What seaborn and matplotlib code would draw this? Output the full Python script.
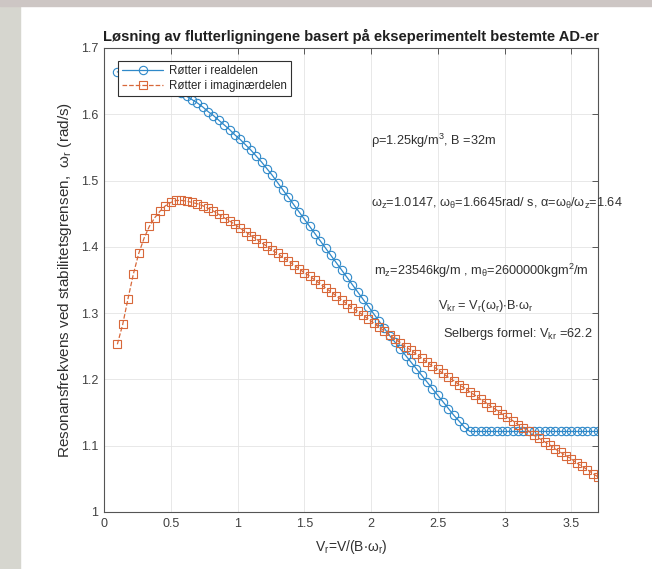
import numpy as np
import pandas as pd
import matplotlib
matplotlib.use("Agg")
import matplotlib.pyplot as plt
import seaborn as sns
from matplotlib.patches import Rectangle

# reduserte hastigheter V_r (steg 0.04)
v_r = [0.10, 0.14, 0.18, 0.22, 0.26, 0.30, 0.34, 0.38, 0.42, 0.46,
       0.50, 0.54, 0.58, 0.62, 0.66, 0.70, 0.74, 0.78, 0.82, 0.86,
       0.90, 0.94, 0.98, 1.02, 1.06, 1.10, 1.14, 1.18, 1.22, 1.26,
       1.30, 1.34, 1.38, 1.42, 1.46, 1.50, 1.54, 1.58, 1.62, 1.66,
       1.70, 1.74, 1.78, 1.82, 1.86, 1.90, 1.94, 1.98, 2.02, 2.06,
       2.10, 2.14, 2.18, 2.22, 2.26, 2.30, 2.34, 2.38, 2.42, 2.46,
       2.50, 2.54, 2.58, 2.62, 2.66, 2.70, 2.74, 2.78, 2.82, 2.86,
       2.90, 2.94, 2.98, 3.02, 3.06, 3.10, 3.14, 3.18, 3.22, 3.26,
       3.30, 3.34, 3.38, 3.42, 3.46, 3.50, 3.54, 3.58, 3.62, 3.66,
       3.70]

# røtter i realdelen
omega_real = [1.664, 1.663, 1.662, 1.661, 1.659, 1.657, 1.654, 1.651, 1.648, 1.645,
              1.641, 1.637, 1.632, 1.627, 1.622, 1.617, 1.611, 1.604, 1.598, 1.591,
              1.584, 1.577, 1.569, 1.562, 1.554, 1.546, 1.537, 1.528, 1.518, 1.508,
              1.497, 1.486, 1.475, 1.464, 1.453, 1.442, 1.431, 1.420, 1.409, 1.398,
              1.387, 1.376, 1.365, 1.354, 1.343, 1.332, 1.321, 1.310, 1.299, 1.288,
              1.277, 1.266, 1.256, 1.246, 1.236, 1.226, 1.216, 1.206, 1.196, 1.186,
              1.176, 1.166, 1.156, 1.146, 1.137, 1.128, 1.1215, 1.1215, 1.1215, 1.1215,
              1.1215, 1.1215, 1.1215, 1.1215, 1.1215, 1.1215, 1.1215, 1.1215, 1.1215, 1.1215,
              1.1215, 1.1215, 1.1215, 1.1215, 1.1215, 1.1215, 1.1215, 1.1215, 1.1215, 1.1215,
              1.1215]

# røtter i imaginærdelen
omega_imag = [1.253, 1.283, 1.322, 1.359, 1.390, 1.413, 1.431, 1.444, 1.454, 1.462,
              1.467, 1.470, 1.470, 1.469, 1.467, 1.465, 1.462, 1.458, 1.454, 1.449,
              1.444, 1.439, 1.434, 1.428, 1.423, 1.417, 1.412, 1.406, 1.401, 1.395,
              1.390, 1.384, 1.379, 1.373, 1.367, 1.361, 1.356, 1.350, 1.344, 1.338,
              1.332, 1.326, 1.320, 1.314, 1.308, 1.303, 1.297, 1.291, 1.285, 1.279,
              1.273, 1.267, 1.261, 1.255, 1.249, 1.244, 1.238, 1.232, 1.226, 1.220,
              1.215, 1.209, 1.203, 1.198, 1.192, 1.187, 1.181, 1.176, 1.170, 1.165,
              1.159, 1.154, 1.148, 1.143, 1.138, 1.132, 1.127, 1.122, 1.116, 1.111,
              1.106, 1.101, 1.095, 1.090, 1.085, 1.080, 1.074, 1.069, 1.064, 1.058,
              1.053]

x_ticks = [0, 0.5, 1, 1.5, 2, 2.5, 3, 3.5]
x_ticklabels = ["0", "0.5", "1", "1.5", "2", "2.5", "3", "3.5"]
y_ticks = [1.0, 1.1, 1.2, 1.3, 1.4, 1.5, 1.6, 1.7]
y_ticklabels = ["1", "1.1", "1.2", "1.3", "1.4", "1.5", "1.6", "1.7"]

df = pd.DataFrame({"Vr": v_r, "real": omega_real, "imag": omega_imag})

sns.set_style("white")
plt.rcParams["font.family"] = ["Liberation Sans", "DejaVu Sans"]
plt.rcParams["mathtext.fontset"] = "custom"
plt.rcParams["mathtext.rm"] = "Liberation Sans"
plt.rcParams["mathtext.it"] = "Liberation Sans:italic"
plt.rcParams["mathtext.default"] = "regular"

blue = "#2f89c9"
orange = "#d8683a"
txt = "#303030"

fig = plt.figure(figsize=(6.52, 5.69), dpi=100)
# grå kanter fra skjermbildet
fig.patches.append(Rectangle((0, 0), 20 / 652, 1, transform=fig.transFigure,
                             color="#d6d6cf", zorder=0))
fig.patches.append(Rectangle((0, 1 - 6 / 569), 1, 6 / 569, transform=fig.transFigure,
                             color="#cdc6c4", zorder=0))
ax = fig.add_axes([104 / 652, 1 - 512 / 569, 494 / 652, 464 / 569])

sns.lineplot(data=df, x="Vr", y="real", ax=ax, sort=False, estimator=None,
             color=blue, linewidth=0.9, marker="o", markersize=6,
             markerfacecolor="none", markeredgecolor=blue, markeredgewidth=0.8,
             label="Røtter i realdelen")
sns.lineplot(data=df, x="Vr", y="imag", ax=ax, sort=False, estimator=None,
             color=orange, linewidth=0.9, linestyle="--", marker="s", markersize=5.5,
             markerfacecolor="none", markeredgecolor=orange, markeredgewidth=0.8,
             label="Røtter i imaginærdelen")

ax.set_xlim(0, 3.7)
ax.set_ylim(1.0, 1.7)
ax.set_xticks(x_ticks)
ax.set_xticklabels(x_ticklabels)
ax.set_yticks(y_ticks)
ax.set_yticklabels(y_ticklabels)
ax.tick_params(direction="in", top=True, right=True, length=4, width=0.6,
               colors="#404040", labelsize=9, pad=4)
ax.grid(True, color="#e4e4e4", linewidth=0.6)
ax.set_axisbelow(True)
for s in ax.spines.values():
    s.set_color("#555555")
    s.set_linewidth(0.8)

ax.set_title("Løsning av flutterligningene basert på ekseperimentelt bestemte AD-er",
             fontsize=10.6, fontweight="bold", color="#202020", pad=5)
ax.set_xlabel(r"V$_r$=V/(B$\cdot\omega_r$)", fontsize=10, color=txt, labelpad=6)
ax.set_ylabel(r"Resonansfrekvens ved stabilitetsgrensen,  $\omega_r$ (rad/s)",
              fontsize=11, color=txt, labelpad=5)

fs = 9.2
ax.text(2.0, 1.56, r"$\rho$=1.25kg/m$^3$, B =32m", fontsize=fs, color=txt, va="center")
ax.text(2.0, 1.466, r"$\omega_z$=1.0147, $\omega_\theta$=1.6645rad/ s, $\alpha$=$\omega_\theta$/$\omega_z$=1.64",
        fontsize=fs, color=txt, va="center", clip_on=False)
ax.text(2.02, 1.364, r"m$_z$=23546kg/m , m$_\theta$=2600000kgm$^2$/m",
        fontsize=fs, color=txt, va="center")
ax.text(2.5, 1.311, r"V$_{kr}$ = V$_r$($\omega_r$)$\cdot$B$\cdot\omega_r$",
        fontsize=fs, color=txt, va="center")
ax.text(2.54, 1.269, r"Selbergs formel: V$_{kr}$ =62.2", fontsize=fs, color=txt, va="center")

leg = ax.legend(loc="upper left", bbox_to_anchor=(0.028, 0.972), borderaxespad=0,
                fontsize=8.3, fancybox=False, framealpha=1, edgecolor="#303030",
                handlelength=3.6, handletextpad=0.5, borderpad=0.35, labelspacing=0.25)
leg.get_frame().set_linewidth(0.8)

fig.savefig("out.png", dpi=100)
